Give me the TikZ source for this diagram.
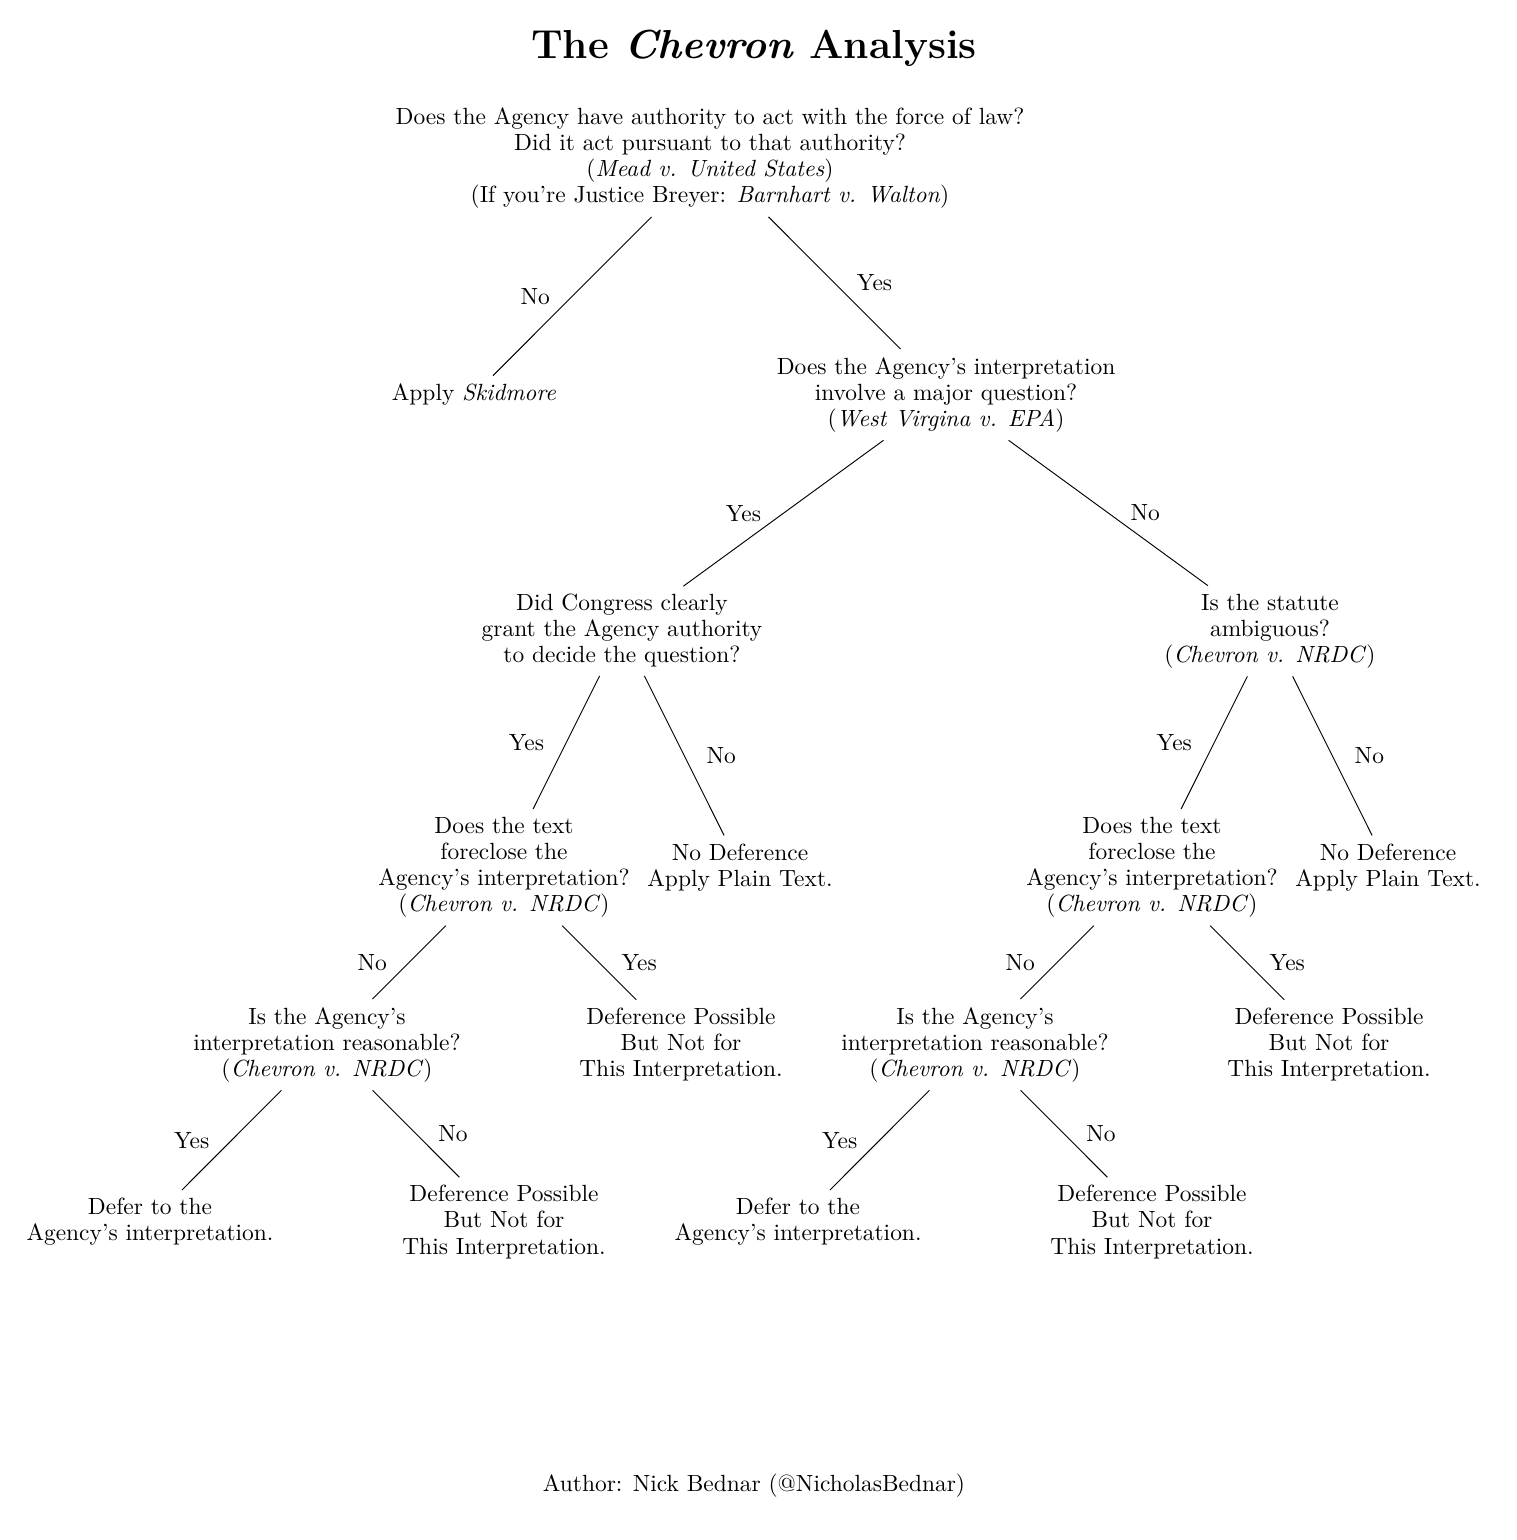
\documentclass[tikz,border=0pt]{standalone}
\usetikzlibrary{trees}

\begin{document}
\begin{tikzpicture}
[-,thin,%
  every node/.style={align=center,font=\linespread{0.925}\selectfont},%
  yes/.style={midway},%
  level distance=3.545cm,%
  level 1/.style={sibling distance=7.08cm},%
  level 2/.style={sibling distance=9.72cm},%
  level 3/.style={sibling distance=3.54cm},%
  level 4/.style={sibling distance=5.31cm,level distance=2.66cm},%
  level 5/.style={sibling distance=5.31cm,level distance=2.66cm}]
\useasboundingbox (0,0) rectangle (22.74,-23.1);
\node (title) at (11.31,-0.72) {\LARGE\bfseries The \textit{Chevron} Analysis};
\node (author) at (11.31,-22.29) {Author: Nick Bednar (@NicholasBednar)};
\node (auth) at (10.65,-2.375) {Does the Agency have authority to act with the force of law?\\
  Did it act pursuant to that authority?\\
  (\textit{Mead v. United States})\\
  (If you're Justice Breyer: \textit{Barnhart v. Walton})}
  child {node (skid) {Apply \textit{Skidmore}}
    edge from parent node[yes,left=6pt] {No}}
  child {node (major) {Does the Agency's interpretation\\ involve a major question?\\ (\textit{West Virgina v. EPA})}
    child {node (grant) {Did Congress clearly\\ grant the Agency authority\\ to decide the question?}
      child {node (textA) {Does the text\\ foreclose the\\ Agency's interpretation?\\ (\textit{Chevron v. NRDC})}
        child {node (reasA) {Is the Agency's\\ interpretation reasonable?\\ (\textit{Chevron v. NRDC})}
          child {node (deferA) {Defer to the\\ Agency's interpretation.}
            edge from parent node[yes,left=6pt] {Yes}}
          child {node (possAA) {Deference Possible\\ But Not for\\ This Interpretation.}
            edge from parent node[yes,right=6pt] {No}}
          edge from parent node[yes,left=6pt] {No}}
        child {node (possA) {Deference Possible\\ But Not for\\ This Interpretation.}
          edge from parent node[yes,right=6pt] {Yes}}
        edge from parent node[yes,left=6pt] {Yes}}
      child {node (plainA) {No Deference\\ Apply Plain Text.}
        edge from parent node[yes,right=6pt] {No}}
      edge from parent node[yes,left=6pt] {Yes}}
    child {node (ambig) {Is the statute\\ ambiguous?\\ (\textit{Chevron v. NRDC})}
      child {node (textB) {Does the text\\ foreclose the\\ Agency's interpretation?\\ (\textit{Chevron v. NRDC})}
        child {node (reasB) {Is the Agency's\\ interpretation reasonable?\\ (\textit{Chevron v. NRDC})}
          child {node (deferB) {Defer to the\\ Agency's interpretation.}
            edge from parent node[yes,left=6pt] {Yes}}
          child {node (possBB) {Deference Possible\\ But Not for\\ This Interpretation.}
            edge from parent node[yes,right=6pt] {No}}
          edge from parent node[yes,left=6pt] {No}}
        child {node (possB) {Deference Possible\\ But Not for\\ This Interpretation.}
          edge from parent node[yes,right=6pt] {Yes}}
        edge from parent node[yes,left=6pt] {Yes}}
      child {node (plainB) {No Deference\\ Apply Plain Text.}
        edge from parent node[yes,right=6pt] {No}}
      edge from parent node[yes,right=6pt] {No}}
    edge from parent node[yes,right=6pt] {Yes}};
\end{tikzpicture}
\end{document}
